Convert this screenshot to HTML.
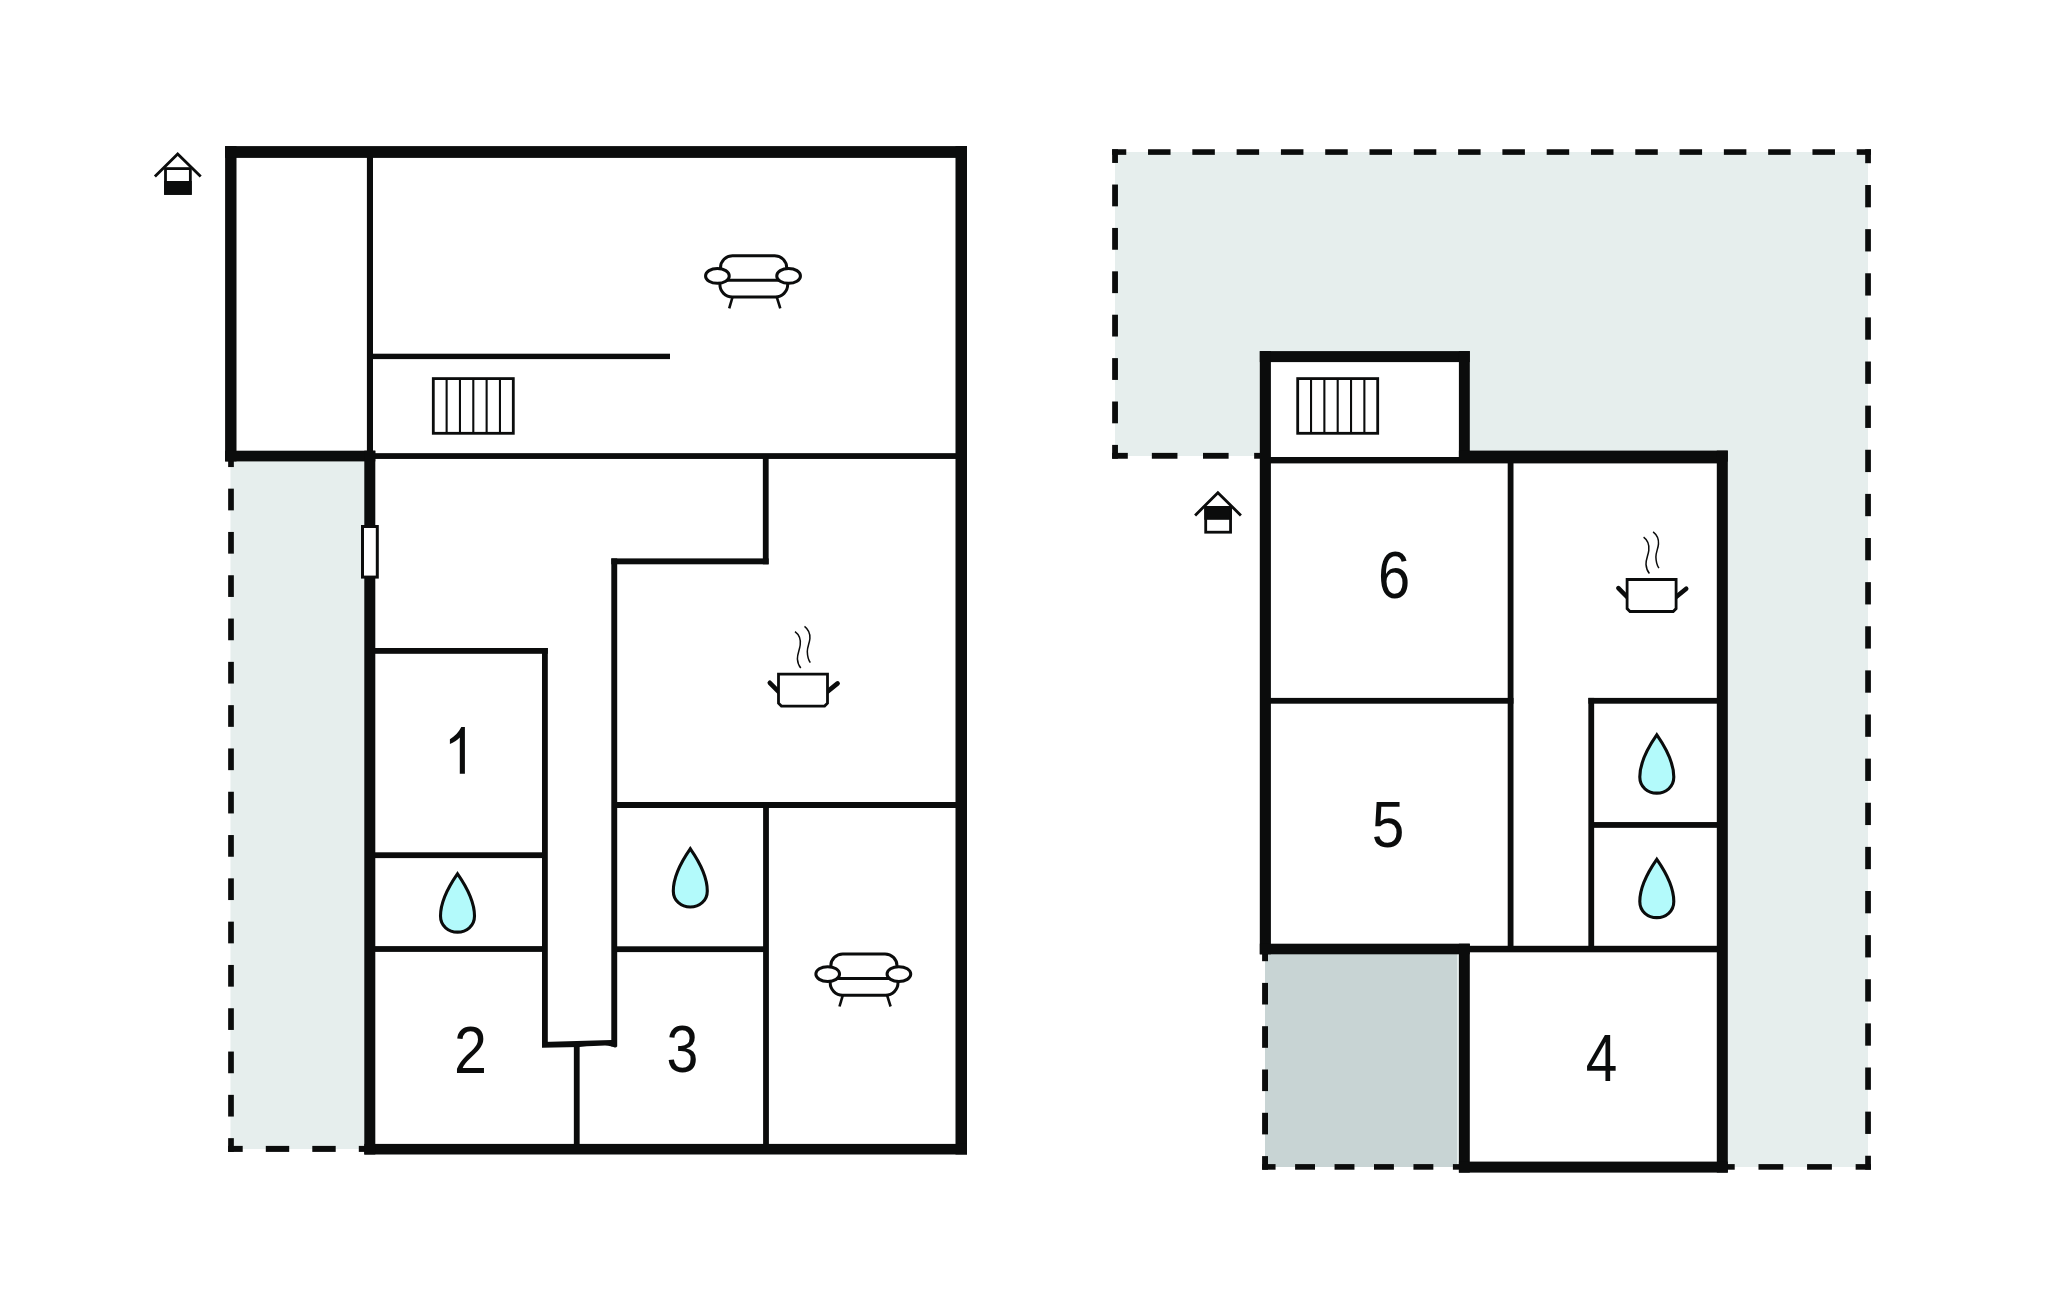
<!DOCTYPE html>
<html><head><meta charset="utf-8"><title>Floor plan</title>
<style>
html,body{margin:0;padding:0;background:#fff;}
body{width:2048px;height:1303px;overflow:hidden;font-family:"Liberation Sans",sans-serif;}
svg{display:block;}
</style></head>
<body>
<svg width="2048" height="1303" viewBox="0 0 2048 1303" shape-rendering="geometricPrecision">
<rect x="0" y="0" width="2048" height="1303" fill="#fff"/>
<rect x="230.5" y="456" width="135.5" height="693" fill="#e6eeed"/>
<rect x="1115" y="152" width="753" height="304" fill="#e6eeed"/>
<rect x="1265" y="152" width="603" height="1015" fill="#e6eeed"/>
<rect x="1265" y="954" width="192" height="213" fill="#c8d4d4"/>
<rect x="1262" y="353" width="206" height="109" fill="#fff"/>
<rect x="1262" y="452" width="464" height="500" fill="#fff"/>
<rect x="1461" y="945" width="265" height="226" fill="#fff"/>
<rect x="228.15" y="456" width="5.7" height="11.05" fill="#0b0c0c"/>
<rect x="228.15" y="488.65" width="5.7" height="21.7" fill="#0b0c0c"/>
<rect x="228.15" y="531.95" width="5.7" height="21.7" fill="#0b0c0c"/>
<rect x="228.15" y="575.25" width="5.7" height="21.7" fill="#0b0c0c"/>
<rect x="228.15" y="618.55" width="5.7" height="21.7" fill="#0b0c0c"/>
<rect x="228.15" y="661.85" width="5.7" height="21.7" fill="#0b0c0c"/>
<rect x="228.15" y="705.15" width="5.7" height="21.7" fill="#0b0c0c"/>
<rect x="228.15" y="748.45" width="5.7" height="21.7" fill="#0b0c0c"/>
<rect x="228.15" y="791.75" width="5.7" height="21.7" fill="#0b0c0c"/>
<rect x="228.15" y="835.05" width="5.7" height="21.7" fill="#0b0c0c"/>
<rect x="228.15" y="878.35" width="5.7" height="21.7" fill="#0b0c0c"/>
<rect x="228.15" y="921.65" width="5.7" height="21.7" fill="#0b0c0c"/>
<rect x="228.15" y="964.95" width="5.7" height="21.7" fill="#0b0c0c"/>
<rect x="228.15" y="1008.25" width="5.7" height="21.7" fill="#0b0c0c"/>
<rect x="228.15" y="1051.55" width="5.7" height="21.7" fill="#0b0c0c"/>
<rect x="228.15" y="1094.85" width="5.7" height="21.7" fill="#0b0c0c"/>
<rect x="228.15" y="1138.15" width="5.7" height="13.7" fill="#0b0c0c"/>
<rect x="228.15" y="1145.9" width="14.55" height="6" fill="#0b0c0c"/>
<rect x="265.8" y="1145.9" width="23.4" height="6" fill="#0b0c0c"/>
<rect x="312.3" y="1145.9" width="23.4" height="6" fill="#0b0c0c"/>
<rect x="358.8" y="1145.9" width="7.2" height="6" fill="#0b0c0c"/>
<rect x="1112.1" y="149.25" width="14.15" height="5.6" fill="#0b0c0c"/>
<rect x="1148.04" y="149.25" width="22.5" height="5.6" fill="#0b0c0c"/>
<rect x="1192.34" y="149.25" width="22.5" height="5.6" fill="#0b0c0c"/>
<rect x="1236.63" y="149.25" width="22.5" height="5.6" fill="#0b0c0c"/>
<rect x="1280.93" y="149.25" width="22.5" height="5.6" fill="#0b0c0c"/>
<rect x="1325.22" y="149.25" width="22.5" height="5.6" fill="#0b0c0c"/>
<rect x="1369.51" y="149.25" width="22.5" height="5.6" fill="#0b0c0c"/>
<rect x="1413.81" y="149.25" width="22.5" height="5.6" fill="#0b0c0c"/>
<rect x="1458.1" y="149.25" width="22.5" height="5.6" fill="#0b0c0c"/>
<rect x="1502.4" y="149.25" width="22.5" height="5.6" fill="#0b0c0c"/>
<rect x="1546.69" y="149.25" width="22.5" height="5.6" fill="#0b0c0c"/>
<rect x="1590.99" y="149.25" width="22.5" height="5.6" fill="#0b0c0c"/>
<rect x="1635.28" y="149.25" width="22.5" height="5.6" fill="#0b0c0c"/>
<rect x="1679.57" y="149.25" width="22.5" height="5.6" fill="#0b0c0c"/>
<rect x="1723.87" y="149.25" width="22.5" height="5.6" fill="#0b0c0c"/>
<rect x="1768.16" y="149.25" width="22.5" height="5.6" fill="#0b0c0c"/>
<rect x="1812.46" y="149.25" width="22.5" height="5.6" fill="#0b0c0c"/>
<rect x="1856.75" y="149.25" width="14.15" height="5.6" fill="#0b0c0c"/>
<rect x="1865.2" y="149.25" width="5.7" height="13.95" fill="#0b0c0c"/>
<rect x="1865.2" y="185.02" width="5.7" height="22.3" fill="#0b0c0c"/>
<rect x="1865.2" y="229.15" width="5.7" height="22.3" fill="#0b0c0c"/>
<rect x="1865.2" y="273.27" width="5.7" height="22.3" fill="#0b0c0c"/>
<rect x="1865.2" y="317.4" width="5.7" height="22.3" fill="#0b0c0c"/>
<rect x="1865.2" y="361.52" width="5.7" height="22.3" fill="#0b0c0c"/>
<rect x="1865.2" y="405.64" width="5.7" height="22.3" fill="#0b0c0c"/>
<rect x="1865.2" y="449.77" width="5.7" height="22.3" fill="#0b0c0c"/>
<rect x="1865.2" y="493.89" width="5.7" height="22.3" fill="#0b0c0c"/>
<rect x="1865.2" y="538.02" width="5.7" height="22.3" fill="#0b0c0c"/>
<rect x="1865.2" y="582.14" width="5.7" height="22.3" fill="#0b0c0c"/>
<rect x="1865.2" y="626.26" width="5.7" height="22.3" fill="#0b0c0c"/>
<rect x="1865.2" y="670.39" width="5.7" height="22.3" fill="#0b0c0c"/>
<rect x="1865.2" y="714.51" width="5.7" height="22.3" fill="#0b0c0c"/>
<rect x="1865.2" y="758.63" width="5.7" height="22.3" fill="#0b0c0c"/>
<rect x="1865.2" y="802.76" width="5.7" height="22.3" fill="#0b0c0c"/>
<rect x="1865.2" y="846.88" width="5.7" height="22.3" fill="#0b0c0c"/>
<rect x="1865.2" y="891.01" width="5.7" height="22.3" fill="#0b0c0c"/>
<rect x="1865.2" y="935.13" width="5.7" height="22.3" fill="#0b0c0c"/>
<rect x="1865.2" y="979.25" width="5.7" height="22.3" fill="#0b0c0c"/>
<rect x="1865.2" y="1023.38" width="5.7" height="22.3" fill="#0b0c0c"/>
<rect x="1865.2" y="1067.5" width="5.7" height="22.3" fill="#0b0c0c"/>
<rect x="1865.2" y="1111.63" width="5.7" height="22.3" fill="#0b0c0c"/>
<rect x="1865.2" y="1155.75" width="5.7" height="13.95" fill="#0b0c0c"/>
<rect x="1722" y="1164.1" width="12.7" height="5.6" fill="#0b0c0c"/>
<rect x="1758.48" y="1164.1" width="24.8" height="5.6" fill="#0b0c0c"/>
<rect x="1807.07" y="1164.1" width="24.8" height="5.6" fill="#0b0c0c"/>
<rect x="1855.65" y="1164.1" width="15.3" height="5.6" fill="#0b0c0c"/>
<rect x="1262.15" y="1164.1" width="13.4" height="5.6" fill="#0b0c0c"/>
<rect x="1295.1" y="1164.1" width="19.9" height="5.6" fill="#0b0c0c"/>
<rect x="1334.55" y="1164.1" width="19.9" height="5.6" fill="#0b0c0c"/>
<rect x="1374" y="1164.1" width="19.9" height="5.6" fill="#0b0c0c"/>
<rect x="1413.45" y="1164.1" width="19.9" height="5.6" fill="#0b0c0c"/>
<rect x="1452.9" y="1164.1" width="9.1" height="5.6" fill="#0b0c0c"/>
<rect x="1262.1" y="1156.1" width="5.9" height="13.6" fill="#0b0c0c"/>
<rect x="1262.1" y="1112.8" width="5.9" height="21.6" fill="#0b0c0c"/>
<rect x="1262.1" y="1069.5" width="5.9" height="21.6" fill="#0b0c0c"/>
<rect x="1262.1" y="1026.2" width="5.9" height="21.6" fill="#0b0c0c"/>
<rect x="1262.1" y="982.9" width="5.9" height="21.6" fill="#0b0c0c"/>
<rect x="1262.1" y="950" width="5.9" height="11.2" fill="#0b0c0c"/>
<rect x="1112.15" y="149.25" width="5.8" height="13.7" fill="#0b0c0c"/>
<rect x="1112.15" y="184.54" width="5.8" height="21.8" fill="#0b0c0c"/>
<rect x="1112.15" y="227.94" width="5.8" height="21.8" fill="#0b0c0c"/>
<rect x="1112.15" y="271.33" width="5.8" height="21.8" fill="#0b0c0c"/>
<rect x="1112.15" y="314.72" width="5.8" height="21.8" fill="#0b0c0c"/>
<rect x="1112.15" y="358.11" width="5.8" height="21.8" fill="#0b0c0c"/>
<rect x="1112.15" y="401.51" width="5.8" height="21.8" fill="#0b0c0c"/>
<rect x="1112.15" y="444.9" width="5.8" height="13.8" fill="#0b0c0c"/>
<rect x="1112.15" y="452.88" width="15.65" height="5.85" fill="#0b0c0c"/>
<rect x="1151.85" y="452.88" width="25.6" height="5.85" fill="#0b0c0c"/>
<rect x="1203" y="452.88" width="25.6" height="5.85" fill="#0b0c0c"/>
<rect x="1254.15" y="452.88" width="7.85" height="5.85" fill="#0b0c0c"/>
<rect x="225.1" y="146.1" width="11.4" height="315.3" fill="#0b0c0c"/>
<rect x="225.1" y="146.1" width="741.9" height="11.8" fill="#0b0c0c"/>
<rect x="955.5" y="146.1" width="11.5" height="1008.4" fill="#0b0c0c"/>
<rect x="364.3" y="1143.9" width="602.7" height="10.6" fill="#0b0c0c"/>
<rect x="225.1" y="450.7" width="150.2" height="10.7" fill="#0b0c0c"/>
<rect x="364.3" y="450.7" width="11" height="703.8" fill="#0b0c0c"/>
<rect x="1259.8" y="351.1" width="210" height="11" fill="#0b0c0c"/>
<rect x="1259.8" y="351.1" width="11.1" height="603.2" fill="#0b0c0c"/>
<rect x="1458.9" y="351.1" width="10.9" height="110.5" fill="#0b0c0c"/>
<rect x="1458.9" y="450.6" width="268.9" height="11" fill="#0b0c0c"/>
<rect x="1716.8" y="450.6" width="11" height="722" fill="#0b0c0c"/>
<rect x="1259.8" y="943.7" width="210" height="10.6" fill="#0b0c0c"/>
<rect x="1458.9" y="943.7" width="10.9" height="228.9" fill="#0b0c0c"/>
<rect x="1458.9" y="1161.6" width="268.9" height="11" fill="#0b0c0c"/>
<rect x="366.9" y="157" width="6.1" height="295" fill="#0b0c0c"/>
<rect x="372.5" y="353.7" width="297.5" height="5.4" fill="#0b0c0c"/>
<rect x="375" y="453.15" width="581" height="5.8" fill="#0b0c0c"/>
<rect x="762.85" y="458" width="5.8" height="106.3" fill="#0b0c0c"/>
<rect x="611.3" y="558.4" width="157.35" height="5.9" fill="#0b0c0c"/>
<rect x="611.3" y="558.4" width="5.9" height="488.1" fill="#0b0c0c"/>
<rect x="617" y="802" width="339" height="6" fill="#0b0c0c"/>
<rect x="763.1" y="803" width="5.8" height="341.5" fill="#0b0c0c"/>
<rect x="617" y="946.3" width="147" height="5.8" fill="#0b0c0c"/>
<rect x="375" y="648" width="172.8" height="5.8" fill="#0b0c0c"/>
<rect x="542" y="648" width="5.8" height="398.5" fill="#0b0c0c"/>
<rect x="375" y="852.3" width="167.5" height="5.8" fill="#0b0c0c"/>
<rect x="375" y="946.1" width="167.5" height="5.8" fill="#0b0c0c"/>
<rect x="573.85" y="1044" width="5.8" height="100.5" fill="#0b0c0c"/>
<path d="M542.0,1041.9 L611.4,1040.1 L616.9,1040.1 L616.9,1046.6 Q616.4,1047.8 614.6,1047.5 Q611.5,1045.9 605,1045.6 Q595,1045.7 579.4,1046.9 L542.0,1047.8 Z" fill="#0b0c0c"/>
<rect x="1270" y="457" width="448" height="6.4" fill="#0b0c0c"/>
<rect x="1270" y="697.9" width="243.5" height="5.8" fill="#0b0c0c"/>
<rect x="1507.7" y="462" width="5.8" height="484" fill="#0b0c0c"/>
<rect x="1588.35" y="697.9" width="5.8" height="248.1" fill="#0b0c0c"/>
<rect x="1588.35" y="697.9" width="128.65" height="5.8" fill="#0b0c0c"/>
<rect x="1593" y="822.05" width="124" height="5.8" fill="#0b0c0c"/>
<rect x="1469" y="945.8" width="248" height="6.5" fill="#0b0c0c"/>
<g transform="translate(0,0)"><rect x="164.1" y="181" width="27.65" height="13.8" fill="#0b0c0c"/><rect x="165.5" y="168.6" width="24.85" height="24.8" fill="none" stroke="#0b0c0c" stroke-width="2.8"/><polyline points="154.9,176.6 177.7,153.9 200.7,176.6" fill="none" stroke="#0b0c0c" stroke-width="2.8" stroke-linejoin="miter" stroke-miterlimit="10"/></g>
<g transform="translate(1040.2,338.8)"><rect x="164.1" y="167.2" width="27.65" height="13.8" fill="#0b0c0c"/><rect x="165.5" y="168.6" width="24.85" height="24.8" fill="none" stroke="#0b0c0c" stroke-width="2.8"/><polyline points="154.9,176.6 177.7,153.9 200.7,176.6" fill="none" stroke="#0b0c0c" stroke-width="2.8" stroke-linejoin="miter" stroke-miterlimit="10"/></g>
<g transform="translate(0,0)" fill="none" stroke="#0b0c0c"><rect x="433.3" y="378.6" width="80" height="54.7" stroke-width="2.8"/><line x1="446.63" y1="378.6" x2="446.63" y2="433.3" stroke-width="2.1"/><line x1="459.97" y1="378.6" x2="459.97" y2="433.3" stroke-width="2.1"/><line x1="473.3" y1="378.6" x2="473.3" y2="433.3" stroke-width="2.1"/><line x1="486.63" y1="378.6" x2="486.63" y2="433.3" stroke-width="2.1"/><line x1="499.97" y1="378.6" x2="499.97" y2="433.3" stroke-width="2.1"/></g>
<g transform="translate(864.4,0)" fill="none" stroke="#0b0c0c"><rect x="433.3" y="378.6" width="80" height="54.7" stroke-width="2.8"/><line x1="446.63" y1="378.6" x2="446.63" y2="433.3" stroke-width="2.1"/><line x1="459.97" y1="378.6" x2="459.97" y2="433.3" stroke-width="2.1"/><line x1="473.3" y1="378.6" x2="473.3" y2="433.3" stroke-width="2.1"/><line x1="486.63" y1="378.6" x2="486.63" y2="433.3" stroke-width="2.1"/><line x1="499.97" y1="378.6" x2="499.97" y2="433.3" stroke-width="2.1"/></g>
<g transform="translate(0,0)" fill="none" stroke="#0b0c0c" stroke-width="3.0"><path d="M720.5,270 L720.5,267.7 A12,12 0 0 1 732.5,255.7 L774.7,255.7 A12,12 0 0 1 786.7,267.7 L786.7,270"/><path d="M726.5,280.3 Q728,280.3 731,280.3 L775.5,280.3 Q778.5,280.3 780,280.3"/><path d="M719.9,283 L719.9,284.6 A12.4,12.4 0 0 0 732.3,297 L775.3,297 A12.4,12.4 0 0 0 787.7,284.6 L787.7,283"/><ellipse cx="717.4" cy="275.9" rx="11.85" ry="7.45" fill="#fff"/><ellipse cx="788.6" cy="275.9" rx="11.85" ry="7.45" fill="#fff"/><line x1="732.4" y1="297.5" x2="729.2" y2="308.3" stroke-width="2.6"/><line x1="776.9" y1="297.5" x2="780.3" y2="308.3" stroke-width="2.6"/></g>
<g transform="translate(110.3,698.2)" fill="none" stroke="#0b0c0c" stroke-width="3.0"><path d="M720.5,270 L720.5,267.7 A12,12 0 0 1 732.5,255.7 L774.7,255.7 A12,12 0 0 1 786.7,267.7 L786.7,270"/><path d="M726.5,280.3 Q728,280.3 731,280.3 L775.5,280.3 Q778.5,280.3 780,280.3"/><path d="M719.9,283 L719.9,284.6 A12.4,12.4 0 0 0 732.3,297 L775.3,297 A12.4,12.4 0 0 0 787.7,284.6 L787.7,283"/><ellipse cx="717.4" cy="275.9" rx="11.85" ry="7.45" fill="#fff"/><ellipse cx="788.6" cy="275.9" rx="11.85" ry="7.45" fill="#fff"/><line x1="732.4" y1="297.5" x2="729.2" y2="308.3" stroke-width="2.6"/><line x1="776.9" y1="297.5" x2="780.3" y2="308.3" stroke-width="2.6"/></g>
<g transform="translate(0,0)" fill="none" stroke="#0b0c0c"><line x1="769.8" y1="682.8" x2="779.5" y2="692.6" stroke-width="4.6" stroke-linecap="round"/><line x1="837.6" y1="683.4" x2="826.5" y2="692.4" stroke-width="4.6" stroke-linecap="round"/><path d="M778.5,674.1 L827.5,674.1 L827.5,703.2 L824.6,706.1 L781.4,706.1 L778.5,703.2 Z" stroke-width="2.8" fill="#fff"/><path d="M795,631.7 C799.5,635 800.8,640 800.2,645 C799.6,650 797.2,654 797.4,659 C797.7,663 799,666 800.8,668.1" stroke-width="1.5"/><path d="M804.5,626.4 C808.5,629.5 810.2,634 809.9,638.5 C809.6,643 807.2,647 807.3,651.5 C807.4,656 808.5,660 810.3,662.7" stroke-width="1.5"/></g>
<g transform="translate(848.6,-94.6)" fill="none" stroke="#0b0c0c"><line x1="769.8" y1="682.8" x2="779.5" y2="692.6" stroke-width="4.6" stroke-linecap="round"/><line x1="837.6" y1="683.4" x2="826.5" y2="692.4" stroke-width="4.6" stroke-linecap="round"/><path d="M778.5,674.1 L827.5,674.1 L827.5,703.2 L824.6,706.1 L781.4,706.1 L778.5,703.2 Z" stroke-width="2.8" fill="#fff"/><path d="M795,631.7 C799.5,635 800.8,640 800.2,645 C799.6,650 797.2,654 797.4,659 C797.7,663 799,666 800.8,668.1" stroke-width="1.5"/><path d="M804.5,626.4 C808.5,629.5 810.2,634 809.9,638.5 C809.6,643 807.2,647 807.3,651.5 C807.4,656 808.5,660 810.3,662.7" stroke-width="1.5"/></g>
<path transform="translate(457.5,871)" d="M0,2.8 C-5,10 -17,27 -17,45 C-17,55 -9,61.1 0,61.1 C9,61.1 17,55 17,45 C17,27 5,10 0,2.8 Z" fill="#b3fafb" stroke="#0b0c0c" stroke-width="3.1" stroke-linejoin="miter" stroke-miterlimit="10"/>
<path transform="translate(690.3,845.9)" d="M0,2.8 C-5,10 -17,27 -17,45 C-17,55 -9,61.1 0,61.1 C9,61.1 17,55 17,45 C17,27 5,10 0,2.8 Z" fill="#b3fafb" stroke="#0b0c0c" stroke-width="3.1" stroke-linejoin="miter" stroke-miterlimit="10"/>
<path transform="translate(1656.8,732)" d="M0,2.8 C-5,10 -17,27 -17,45 C-17,55 -9,61.1 0,61.1 C9,61.1 17,55 17,45 C17,27 5,10 0,2.8 Z" fill="#b3fafb" stroke="#0b0c0c" stroke-width="3.1" stroke-linejoin="miter" stroke-miterlimit="10"/>
<path transform="translate(1656.8,856.5)" d="M0,2.8 C-5,10 -17,27 -17,45 C-17,55 -9,61.1 0,61.1 C9,61.1 17,55 17,45 C17,27 5,10 0,2.8 Z" fill="#b3fafb" stroke="#0b0c0c" stroke-width="3.1" stroke-linejoin="miter" stroke-miterlimit="10"/>
<rect x="362.5" y="526.5" width="14.8" height="50.6" fill="#fff" stroke="#0b0c0c" stroke-width="3"/>
<text transform="translate(454.12,1072.5) scale(0.8899,1)" font-family="Liberation Sans" font-size="66.596" fill="#0b0c0c">2</text>
<text transform="translate(666.57,1072.05) scale(0.8645,1)" font-family="Liberation Sans" font-size="66.242" fill="#0b0c0c">3</text>
<text transform="translate(1585.8,1080.9) scale(0.8489,1)" font-family="Liberation Sans" font-size="66.862" fill="#0b0c0c">4</text>
<text transform="translate(1371.65,847.06) scale(0.8933,1)" font-family="Liberation Sans" font-size="65.639" fill="#0b0c0c">5</text>
<text transform="translate(1378.06,598.25) scale(0.8717,1)" font-family="Liberation Sans" font-size="66.383" fill="#0b0c0c">6</text>
<path d="M459.8,773.7 L464.9,773.7 L464.9,727.1 L461.3,727.1 C458.6,732.3 454.8,736.4 449.9,739.2 L449.9,744.1 C453.6,742.6 457.2,740.3 459.8,737.6 Z" fill="#0b0c0c"/>
</svg>
</body></html>
